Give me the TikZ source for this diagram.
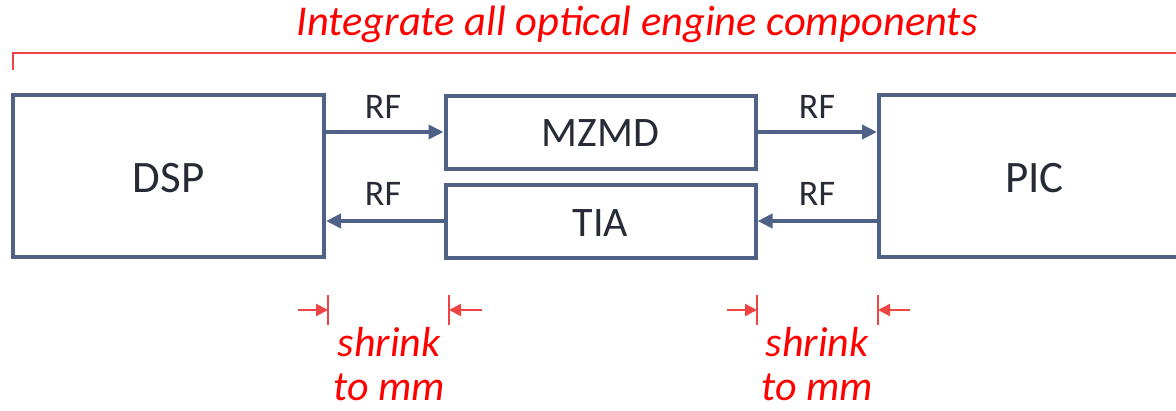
\documentclass[tikz,border=0pt]{standalone}
\usepackage{fontspec}
\setmainfont{Carlito}
\usetikzlibrary{arrows.meta}
\definecolor{boxblue}{HTML}{506187}
\definecolor{txtdark}{HTML}{262B36}
\definecolor{linered}{HTML}{EE4444}
\definecolor{txtred}{HTML}{FF0000}
\begin{document}
\begin{tikzpicture}[x=1pt,y=-1pt,
  blk/.style={draw=boxblue,line width=4pt,inner sep=0pt},
  lab/.style={text=txtdark,anchor=base,inner sep=0pt},
  flow/.style={draw=boxblue,line width=4pt,-{Triangle[length=15pt,width=14pt]}},
  rflabel/.style={lab,font=\fontsize{36}{43}\selectfont},
  redtxt/.style={text=txtred,font=\itshape\fontsize{42}{50}\selectfont,inner sep=0pt,anchor=base,text depth=0pt},
  shrinkarr/.style={draw=linered,line width=2.5pt,-{Triangle[length=12pt,width=12pt]}},
  tick/.style={draw=linered,line width=2pt},
  bracket/.style={draw=linered,line width=2.5pt}
]
\useasboundingbox (0,0) rectangle (1176,410);
% title
\node[redtxt,font=\itshape\fontsize{42.5}{50}\selectfont] (title) at (637,35) {Integrate all optical engine components};
\coordinate (bl) at (13,70);
\coordinate (bt) at (13,53);
\coordinate (br) at (1200,53);
\draw[bracket] (bl) -- (bt) -- (br);
% blocks
\node[blk,minimum width=311pt,minimum height=162pt] (dsp) at (168.5,176) {};
\node[lab,font=\fontsize{45}{54}\selectfont] (dsplab) at (168.5,192) {DSP};
\node[blk,minimum width=311pt,minimum height=162pt] (pic) at (1034.5,176) {};
\node[lab,font=\fontsize{45}{54}\selectfont] (piclab) at (1034.5,192) {PIC};
\node[blk,minimum width=310pt,minimum height=73pt] (mzmd) at (600.5,132) {};
\node[lab,font=\fontsize{42}{50}\selectfont] (mzmdlab) at (600.5,146) {MZMD};
\node[blk,minimum width=310pt,minimum height=73pt] (tia) at (600.5,221) {};
\node[lab,font=\fontsize{42}{50}\selectfont] (tialab) at (600.5,236) {TIA};
% connectors
\draw[flow] (dsp.east |- mzmd.west) -- (mzmd.west);
\draw[flow] (tia.west) -- (dsp.east |- tia.west);
\draw[flow] (mzmd.east) -- (pic.west |- mzmd.east);
\draw[flow] (pic.west |- tia.east) -- (tia.east);
\node[rflabel] (rf1) at (383,118) {RF};
\node[rflabel] (rf2) at (383,205) {RF};
\node[rflabel] (rf3) at (817,118) {RF};
\node[rflabel] (rf4) at (817,205) {RF};
% shrink markers left
\coordinate (t1a) at (328,295); \coordinate (t1b) at (328,325);
\coordinate (t2a) at (449,295); \coordinate (t2b) at (449,325);
\draw[tick] (t1a) -- (t1b);
\draw[tick] (t2a) -- (t2b);
\coordinate (a1s) at (298,310); \coordinate (a1e) at (328,310);
\coordinate (a2s) at (482,310); \coordinate (a2e) at (449,310);
\draw[shrinkarr] (a1s) -- (a1e);
\draw[shrinkarr] (a2s) -- (a2e);
% shrink markers right
\coordinate (t3a) at (757,295); \coordinate (t3b) at (757,325);
\coordinate (t4a) at (878,295); \coordinate (t4b) at (878,325);
\draw[tick] (t3a) -- (t3b);
\draw[tick] (t4a) -- (t4b);
\coordinate (a3s) at (727,310); \coordinate (a3e) at (757,310);
\coordinate (a4s) at (910,310); \coordinate (a4e) at (878,310);
\draw[shrinkarr] (a3s) -- (a3e);
\draw[shrinkarr] (a4s) -- (a4e);
% shrink texts
\node[redtxt] (s1) at (389,356) {shrink};
\node[redtxt] (s1b) at (389,400) {to mm};
\node[redtxt] (s2) at (817,356) {shrink};
\node[redtxt] (s2b) at (817,400) {to mm};
\end{tikzpicture}
\end{document}
